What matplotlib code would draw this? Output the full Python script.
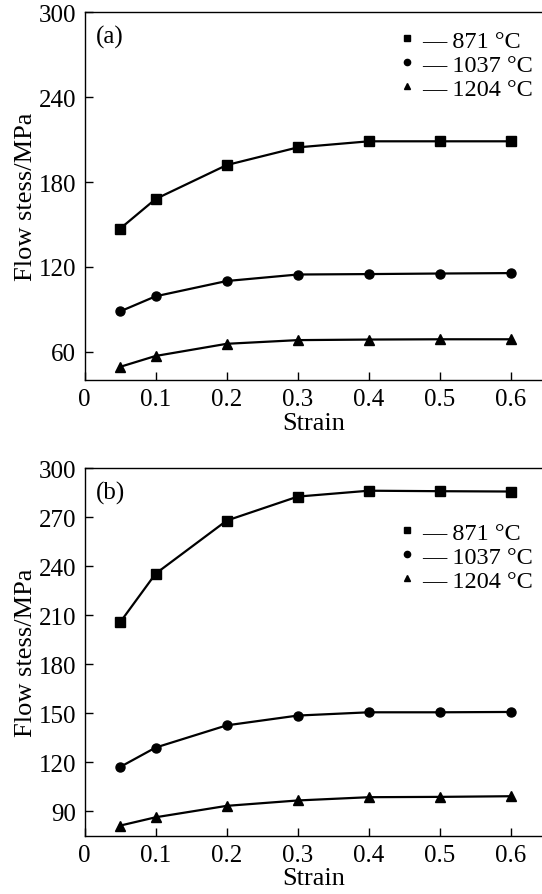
import matplotlib.pyplot as plt
from matplotlib.lines import Line2D

plt.rcParams['font.family'] = ['Liberation Serif', 'DejaVu Serif']
plt.rcParams['font.size'] = 18

strain = [0.05, 0.1, 0.2, 0.3, 0.4, 0.5, 0.6]
temps = ["871 °C", "1037 °C", "1204 °C"]
markers = ["s", "o", "^"]

# panel (a)
a_871 = [147, 168, 192, 204.5, 208.8, 208.8, 208.8]
a_1037 = [88.5, 99.2, 110, 114.6, 114.9, 115.3, 115.6]
a_1204 = [49.3, 57, 65.6, 68.2, 68.6, 68.8, 68.8]

# panel (b)
b_871 = [205.7, 235.5, 268, 282.7, 286.3, 286, 285.8]
b_1037 = [117.1, 129, 142.6, 148.6, 150.6, 150.6, 150.8]
b_1204 = [81.2, 86.3, 93.3, 96.6, 98.6, 98.8, 99.2]

fig = plt.figure(figsize=(5.42, 8.95), dpi=100)
axA = fig.add_axes([0.156, 0.5743, 0.844, 0.4108])
axB = fig.add_axes([0.156, 0.0651, 0.844, 0.4105])


def panel(ax, series, ylim, yticks, tag, leg_y):
    for ys, m in zip(series, markers):
        ax.plot(strain, ys, color="black", marker=m, markersize=6.5, linewidth=1.6)
    ax.set_xlim(0, 0.6436)
    ax.set_ylim(*ylim)
    ax.set_xticks([0, 0.1, 0.2, 0.3, 0.4, 0.5, 0.6])
    ax.set_xticklabels(["0", "0.1", "0.2", "0.3", "0.4", "0.5", "0.6"])
    ax.set_yticks(yticks)
    ax.tick_params(direction="in", length=6, width=1, pad=6, labelsize=18)
    ax.spines["right"].set_visible(False)
    for s in ["left", "bottom", "top"]:
        ax.spines[s].set_linewidth(1)
    ax.set_xlabel("Strain", labelpad=1, fontsize=19)
    ax.set_ylabel("Flow stess/MPa", labelpad=1, fontsize=19)
    ax.text(0.025, 0.965, tag, transform=ax.transAxes, ha="left", va="top", fontsize=18)
    handles = [Line2D([], [], color="black", marker=m, linestyle="none", markersize=4.5)
               for m in markers]
    ax.legend(handles, ["\u2014 " + t for t in temps], loc="upper left",
              bbox_to_anchor=(0.69, leg_y), frameon=False, handlelength=0.6,
              handletextpad=0.3, labelspacing=0.08, borderpad=0, borderaxespad=0,
              fontsize=17.5)


panel(axA, [a_871, a_1037, a_1204], (40, 300), [60, 120, 180, 240, 300], "(a)", 0.952)
panel(axB, [b_871, b_1037, b_1204], (75, 300), [90, 120, 150, 180, 210, 240, 270, 300], "(b)", 0.855)

fig.savefig("out.png", dpi=100)
